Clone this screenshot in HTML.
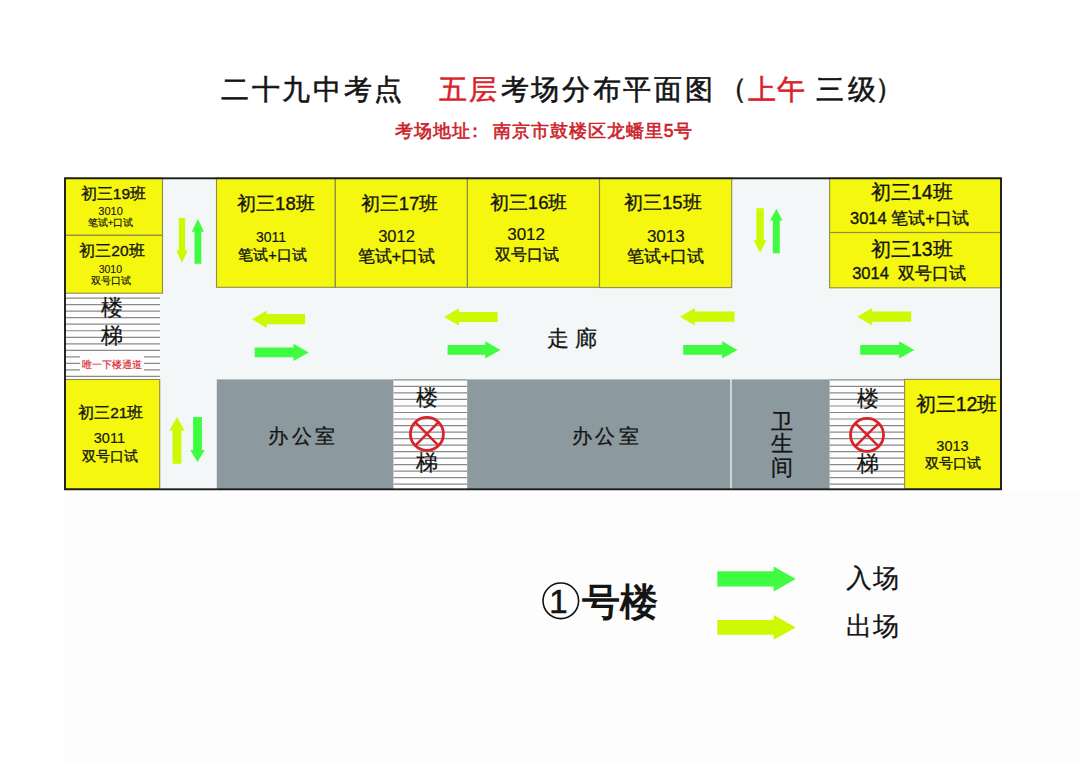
<!DOCTYPE html>
<html><head><meta charset="utf-8"><style>
html,body{margin:0;padding:0;background:#fff;}
body{width:1080px;height:764px;position:relative;overflow:hidden;font-family:"Liberation Sans",sans-serif;}
svg{position:absolute;left:0;top:0;}
.t{position:absolute;white-space:nowrap;line-height:1;color:#141414;}
</style></head><body>
<svg width="1080" height="764" viewBox="0 0 1080 764">
<rect x="64" y="490" width="1016" height="274" fill="#fdfdfd" />
<rect x="65" y="178" width="936" height="311" fill="#f3f7f8" />
<rect x="65" y="178" width="97.5" height="57.3" fill="#f5f70f" />
<rect x="65" y="235.3" width="97.5" height="57.9" fill="#f5f70f" />
<rect x="65" y="379.5" width="94.7" height="109.5" fill="#f5f70f" />
<rect x="216.5" y="178" width="118.8" height="109.3" fill="#f5f70f" />
<rect x="335.3" y="178" width="132.1" height="109.3" fill="#f5f70f" />
<rect x="467.4" y="178" width="132.1" height="109.3" fill="#f5f70f" />
<rect x="599.5" y="178" width="132.2" height="109.6" fill="#f5f70f" />
<rect x="829.6" y="178" width="171.4" height="54.5" fill="#f5f70f" />
<rect x="829.6" y="232.5" width="171.4" height="55.3" fill="#f5f70f" />
<rect x="904.6" y="379.4" width="96.4" height="109.6" fill="#f5f70f" />
<rect x="216.8" y="379.4" width="176.8" height="109.6" fill="#8c999e" />
<rect x="467.1" y="379.4" width="263.2" height="109.6" fill="#8c999e" />
<rect x="731.6" y="379.4" width="98.2" height="109.6" fill="#8c999e" />
<rect x="65" y="293.2" width="95" height="86.3" fill="#fdfdfd" />
<line x1="65" y1="298.1" x2="160" y2="298.1" stroke="#8a8a8a" stroke-width="1.2"/>
<line x1="65" y1="304.63" x2="160" y2="304.63" stroke="#8a8a8a" stroke-width="1.2"/>
<line x1="65" y1="311.16" x2="160" y2="311.16" stroke="#8a8a8a" stroke-width="1.2"/>
<line x1="65" y1="317.69" x2="160" y2="317.69" stroke="#8a8a8a" stroke-width="1.2"/>
<line x1="65" y1="324.22" x2="160" y2="324.22" stroke="#8a8a8a" stroke-width="1.2"/>
<line x1="65" y1="330.75" x2="160" y2="330.75" stroke="#8a8a8a" stroke-width="1.2"/>
<line x1="65" y1="337.28000000000003" x2="160" y2="337.28000000000003" stroke="#8a8a8a" stroke-width="1.2"/>
<line x1="65" y1="343.81" x2="160" y2="343.81" stroke="#8a8a8a" stroke-width="1.2"/>
<line x1="65" y1="350.34000000000003" x2="160" y2="350.34000000000003" stroke="#8a8a8a" stroke-width="1.2"/>
<line x1="65" y1="356.87" x2="160" y2="356.87" stroke="#8a8a8a" stroke-width="1.2"/>
<line x1="65" y1="363.40000000000003" x2="160" y2="363.40000000000003" stroke="#8a8a8a" stroke-width="1.2"/>
<line x1="65" y1="369.93" x2="160" y2="369.93" stroke="#8a8a8a" stroke-width="1.2"/>
<line x1="65" y1="376.46000000000004" x2="160" y2="376.46000000000004" stroke="#8a8a8a" stroke-width="1.2"/>
<rect x="80" y="353.5" width="64" height="18.5" fill="#fdfdfd" />
<rect x="393.6" y="379.4" width="73.5" height="109.6" fill="#fdfdfd" />
<line x1="393.6" y1="379.9" x2="467.1" y2="379.9" stroke="#8a8a8a" stroke-width="1.2"/>
<line x1="393.6" y1="386.41999999999996" x2="467.1" y2="386.41999999999996" stroke="#8a8a8a" stroke-width="1.2"/>
<line x1="393.6" y1="392.94" x2="467.1" y2="392.94" stroke="#8a8a8a" stroke-width="1.2"/>
<line x1="393.6" y1="399.46" x2="467.1" y2="399.46" stroke="#8a8a8a" stroke-width="1.2"/>
<line x1="393.6" y1="405.97999999999996" x2="467.1" y2="405.97999999999996" stroke="#8a8a8a" stroke-width="1.2"/>
<line x1="393.6" y1="412.5" x2="467.1" y2="412.5" stroke="#8a8a8a" stroke-width="1.2"/>
<line x1="393.6" y1="419.02" x2="467.1" y2="419.02" stroke="#8a8a8a" stroke-width="1.2"/>
<line x1="393.6" y1="425.53999999999996" x2="467.1" y2="425.53999999999996" stroke="#8a8a8a" stroke-width="1.2"/>
<line x1="393.6" y1="432.05999999999995" x2="467.1" y2="432.05999999999995" stroke="#8a8a8a" stroke-width="1.2"/>
<line x1="393.6" y1="438.58" x2="467.1" y2="438.58" stroke="#8a8a8a" stroke-width="1.2"/>
<line x1="393.6" y1="445.09999999999997" x2="467.1" y2="445.09999999999997" stroke="#8a8a8a" stroke-width="1.2"/>
<line x1="393.6" y1="451.62" x2="467.1" y2="451.62" stroke="#8a8a8a" stroke-width="1.2"/>
<line x1="393.6" y1="458.14" x2="467.1" y2="458.14" stroke="#8a8a8a" stroke-width="1.2"/>
<line x1="393.6" y1="464.65999999999997" x2="467.1" y2="464.65999999999997" stroke="#8a8a8a" stroke-width="1.2"/>
<line x1="393.6" y1="471.17999999999995" x2="467.1" y2="471.17999999999995" stroke="#8a8a8a" stroke-width="1.2"/>
<line x1="393.6" y1="477.7" x2="467.1" y2="477.7" stroke="#8a8a8a" stroke-width="1.2"/>
<line x1="393.6" y1="484.21999999999997" x2="467.1" y2="484.21999999999997" stroke="#8a8a8a" stroke-width="1.2"/>
<rect x="829.8" y="379.4" width="74.8" height="109.6" fill="#fdfdfd" />
<line x1="829.8" y1="379.9" x2="904.6" y2="379.9" stroke="#8a8a8a" stroke-width="1.2"/>
<line x1="829.8" y1="386.41999999999996" x2="904.6" y2="386.41999999999996" stroke="#8a8a8a" stroke-width="1.2"/>
<line x1="829.8" y1="392.94" x2="904.6" y2="392.94" stroke="#8a8a8a" stroke-width="1.2"/>
<line x1="829.8" y1="399.46" x2="904.6" y2="399.46" stroke="#8a8a8a" stroke-width="1.2"/>
<line x1="829.8" y1="405.97999999999996" x2="904.6" y2="405.97999999999996" stroke="#8a8a8a" stroke-width="1.2"/>
<line x1="829.8" y1="412.5" x2="904.6" y2="412.5" stroke="#8a8a8a" stroke-width="1.2"/>
<line x1="829.8" y1="419.02" x2="904.6" y2="419.02" stroke="#8a8a8a" stroke-width="1.2"/>
<line x1="829.8" y1="425.53999999999996" x2="904.6" y2="425.53999999999996" stroke="#8a8a8a" stroke-width="1.2"/>
<line x1="829.8" y1="432.05999999999995" x2="904.6" y2="432.05999999999995" stroke="#8a8a8a" stroke-width="1.2"/>
<line x1="829.8" y1="438.58" x2="904.6" y2="438.58" stroke="#8a8a8a" stroke-width="1.2"/>
<line x1="829.8" y1="445.09999999999997" x2="904.6" y2="445.09999999999997" stroke="#8a8a8a" stroke-width="1.2"/>
<line x1="829.8" y1="451.62" x2="904.6" y2="451.62" stroke="#8a8a8a" stroke-width="1.2"/>
<line x1="829.8" y1="458.14" x2="904.6" y2="458.14" stroke="#8a8a8a" stroke-width="1.2"/>
<line x1="829.8" y1="464.65999999999997" x2="904.6" y2="464.65999999999997" stroke="#8a8a8a" stroke-width="1.2"/>
<line x1="829.8" y1="471.17999999999995" x2="904.6" y2="471.17999999999995" stroke="#8a8a8a" stroke-width="1.2"/>
<line x1="829.8" y1="477.7" x2="904.6" y2="477.7" stroke="#8a8a8a" stroke-width="1.2"/>
<line x1="829.8" y1="484.21999999999997" x2="904.6" y2="484.21999999999997" stroke="#8a8a8a" stroke-width="1.2"/>
<rect x="65" y="178" width="97.5" height="57.3" fill="none" stroke="#8f8d4a" stroke-width="1.1"/>
<rect x="65" y="235.3" width="97.5" height="57.9" fill="none" stroke="#8f8d4a" stroke-width="1.1"/>
<rect x="65" y="379.5" width="94.7" height="109.5" fill="none" stroke="#8f8d4a" stroke-width="1.1"/>
<rect x="216.5" y="178" width="118.8" height="109.3" fill="none" stroke="#8f8d4a" stroke-width="1.1"/>
<rect x="335.3" y="178" width="132.1" height="109.3" fill="none" stroke="#8f8d4a" stroke-width="1.1"/>
<rect x="467.4" y="178" width="132.1" height="109.3" fill="none" stroke="#8f8d4a" stroke-width="1.1"/>
<rect x="599.5" y="178" width="132.2" height="109.6" fill="none" stroke="#8f8d4a" stroke-width="1.1"/>
<rect x="829.6" y="178" width="171.4" height="54.5" fill="none" stroke="#8f8d4a" stroke-width="1.1"/>
<rect x="829.6" y="232.5" width="171.4" height="55.3" fill="none" stroke="#8f8d4a" stroke-width="1.1"/>
<rect x="904.6" y="379.4" width="96.4" height="109.6" fill="none" stroke="#8f8d4a" stroke-width="1.1"/>
<rect x="65" y="178.3" width="936" height="311" fill="none" stroke="#1c1c1c" stroke-width="1.9"/>
<circle cx="426.9" cy="433.9" r="16.5" fill="none" stroke="#d8232a" stroke-width="2.8"/>
<line x1="415.23285" y1="422.23285" x2="438.56714999999997" y2="445.56714999999997" stroke="#d8232a" stroke-width="2.5"/>
<line x1="415.23285" y1="445.56714999999997" x2="438.56714999999997" y2="422.23285" stroke="#d8232a" stroke-width="2.5"/>
<circle cx="867.0" cy="434.8" r="16.5" fill="none" stroke="#d8232a" stroke-width="2.8"/>
<line x1="855.33285" y1="423.13285" x2="878.66715" y2="446.46715" stroke="#d8232a" stroke-width="2.5"/>
<line x1="855.33285" y1="446.46715" x2="878.66715" y2="423.13285" stroke="#d8232a" stroke-width="2.5"/>
<polygon points="251.9,319.2 266.7,310.5 266.7,314.1 305.1,314.1 305.1,324.3 266.7,324.3 266.7,327.9" fill="#cdf905"/>
<polygon points="444.1,317.0 458.9,308.3 458.9,311.9 497.7,311.9 497.7,322.1 458.9,322.1 458.9,325.7" fill="#cdf905"/>
<polygon points="680.1,316.7 694.9,308.0 694.9,311.6 734.5,311.6 734.5,321.8 694.9,321.8 694.9,325.4" fill="#cdf905"/>
<polygon points="857.3,316.7 872.1,308.0 872.1,311.6 911.2,311.6 911.2,321.8 872.1,321.8 872.1,325.4" fill="#cdf905"/>
<polygon points="308.7,352.4 293.5,343.8 293.5,347.5 254.7,347.5 254.7,357.3 293.5,357.3 293.5,361.0" fill="#40fc40"/>
<polygon points="500.4,349.9 485.2,341.3 485.2,345.0 447.6,345.0 447.6,354.8 485.2,354.8 485.2,358.5" fill="#40fc40"/>
<polygon points="737.4,349.9 722.2,341.3 722.2,345.0 683.2,345.0 683.2,354.8 722.2,354.8 722.2,358.5" fill="#40fc40"/>
<polygon points="914.3,349.9 899.1,341.3 899.1,345.0 860.2,345.0 860.2,354.8 899.1,354.8 899.1,358.5" fill="#40fc40"/>
<polygon points="182.0,262.8 187.8,250.5 185.2,250.5 185.2,218.1 178.8,218.1 178.8,250.5 176.2,250.5" fill="#cdf905"/>
<polygon points="197.9,219.1 204.0,231.8 201.3,231.8 201.3,263.8 194.5,263.8 194.5,231.8 191.8,231.8" fill="#40fc40"/>
<polygon points="760.1,252.7 766.5,240.3 763.8,240.3 763.8,208.3 756.4,208.3 756.4,240.3 753.7,240.3" fill="#cdf905"/>
<polygon points="776.35,208.7 782.55,220.6 779.8,220.6 779.8,253.2 772.9,253.2 772.9,220.6 770.15,220.6" fill="#40fc40"/>
<polygon points="177.0,416.9 184.7,430.5 181.45,430.5 181.45,463.7 172.55,463.7 172.55,430.5 169.3,430.5" fill="#cdf905"/>
<polygon points="197.5,462.0 204.75,450.1 201.95,450.1 201.95,416.9 193.05,416.9 193.05,450.1 190.25,450.1" fill="#40fc40"/>
<polygon points="795.7,578.9 773.7,566.4 773.7,571.3 717.3,571.3 717.3,586.5 773.7,586.5 773.7,591.4" fill="#40fc40"/>
<polygon points="795.7,627.4 773.7,615.1 773.7,619.95 717.3,619.95 717.3,634.85 773.7,634.85 773.7,639.7" fill="#cdf905"/>
<circle cx="560.8" cy="600.8" r="17.8" fill="none" stroke="#111" stroke-width="1.6"/>
</svg>
<div class="t" style="left:221.15px;top:75.75px;font-size:28px;letter-spacing:2.62px;-webkit-text-stroke-width:0.55px;">二十九中考点</div>
<div class="t" style="left:439.2px;top:76.0px;font-size:28px;letter-spacing:1.6px;color:#d8232a;-webkit-text-stroke-width:0.55px;">五层</div>
<div class="t" style="left:500.65px;top:75.95px;font-size:28px;letter-spacing:2.68px;-webkit-text-stroke-width:0.55px;">考场分布平面图</div>
<div class="t" style="left:719.25px;top:74.5px;font-size:28px;-webkit-text-stroke-width:0.55px;">（</div>
<div class="t" style="left:747.7px;top:75.95px;font-size:28px;letter-spacing:1.8px;color:#d8232a;-webkit-text-stroke-width:0.55px;">上午</div>
<div class="t" style="left:815.85px;top:76.45px;font-size:28px;letter-spacing:4.3px;-webkit-text-stroke-width:0.55px;">三级</div>
<div class="t" style="left:874.95px;top:74.5px;font-size:28px;-webkit-text-stroke-width:0.55px;">）</div>
<div class="t" style="left:395.3px;top:122.55px;font-size:17.5px;letter-spacing:0.93px;color:#cc1f2a;-webkit-text-stroke-width:0.6px;">考场地址</div>
<div class="t" style="left:466.25px;top:122.75px;font-size:17.5px;color:#cc1f2a;-webkit-text-stroke-width:0.6px;">：</div>
<div class="t" style="left:493.15px;top:122.55px;font-size:17.5px;letter-spacing:0.95px;color:#cc1f2a;-webkit-text-stroke-width:0.6px;">南京市鼓楼区龙蟠里5号</div>
<div class="t" style="left:80.8px;top:185.5px;font-size:15.5px;-webkit-text-stroke-width:0.35px;">初三19班</div>
<div class="t" style="left:98.35px;top:206.25px;font-size:11.0px;-webkit-text-stroke-width:0.1px;">3010</div>
<div class="t" style="left:87.85px;top:218.4px;font-size:9.5px;-webkit-text-stroke-width:0.2px;">笔试+口试</div>
<div class="t" style="left:79.3px;top:243.25px;font-size:15.5px;-webkit-text-stroke-width:0.35px;">初三20班</div>
<div class="t" style="left:98.65px;top:263.75px;font-size:10.5px;-webkit-text-stroke-width:0.1px;">3010</div>
<div class="t" style="left:90.85px;top:276.3px;font-size:9.5px;-webkit-text-stroke-width:0.2px;">双号口试</div>
<div class="t" style="left:101.1px;top:296.85px;font-size:22px;-webkit-text-stroke-width:0.2px;">楼</div>
<div class="t" style="left:101.1px;top:325.25px;font-size:22px;-webkit-text-stroke-width:0.2px;">梯</div>
<div class="t" style="left:81.75px;top:359.6px;font-size:9.5px;color:#d8232a;-webkit-text-stroke-width:0.15px;">唯一下楼通道</div>
<div class="t" style="left:78.15px;top:404.7px;font-size:15.5px;-webkit-text-stroke-width:0.35px;">初三21班</div>
<div class="t" style="left:93.8px;top:430.9px;font-size:14.5px;-webkit-text-stroke-width:0.15px;">3011</div>
<div class="t" style="left:82.2px;top:449.5px;font-size:13.5px;-webkit-text-stroke-width:0.35px;">双号口试</div>
<div class="t" style="left:237.1px;top:194.55px;font-size:18.5px;-webkit-text-stroke-width:0.35px;">初三18班</div>
<div class="t" style="left:256.05px;top:229.5px;font-size:14.0px;-webkit-text-stroke-width:0.15px;">3011</div>
<div class="t" style="left:238.25px;top:248.2px;font-size:14.5px;-webkit-text-stroke-width:0.35px;">笔试+口试</div>
<div class="t" style="left:360.75px;top:194.75px;font-size:18.5px;-webkit-text-stroke-width:0.35px;">初三17班</div>
<div class="t" style="left:378.15px;top:227.65px;font-size:16.5px;-webkit-text-stroke-width:0.15px;">3012</div>
<div class="t" style="left:357.6px;top:247.55px;font-size:16.5px;-webkit-text-stroke-width:0.35px;">笔试+口试</div>
<div class="t" style="left:489.85px;top:194.15px;font-size:18.5px;-webkit-text-stroke-width:0.35px;">初三16班</div>
<div class="t" style="left:507.2px;top:226.3px;font-size:17.0px;-webkit-text-stroke-width:0.15px;">3012</div>
<div class="t" style="left:494.55px;top:247.15px;font-size:15.5px;-webkit-text-stroke-width:0.35px;">双号口试</div>
<div class="t" style="left:624.0px;top:194.35px;font-size:18.5px;-webkit-text-stroke-width:0.35px;">初三15班</div>
<div class="t" style="left:646.9px;top:227.9px;font-size:17.0px;-webkit-text-stroke-width:0.15px;">3013</div>
<div class="t" style="left:626.65px;top:247.55px;font-size:16.5px;-webkit-text-stroke-width:0.35px;">笔试+口试</div>
<div class="t" style="left:870.9px;top:183.45px;font-size:19.5px;-webkit-text-stroke-width:0.35px;">初三14班</div>
<div class="t" style="left:850.0px;top:209.9px;font-size:16.5px;-webkit-text-stroke-width:0.35px;">3014 笔试+口试</div>
<div class="t" style="left:870.9px;top:239.75px;font-size:19.5px;-webkit-text-stroke-width:0.35px;">初三13班</div>
<div class="t" style="left:852.2px;top:264.9px;font-size:16.5px;-webkit-text-stroke-width:0.35px;">3014&nbsp; 双号口试</div>
<div class="t" style="left:547.1px;top:327.65px;font-size:22px;letter-spacing:6.4px;-webkit-text-stroke-width:0.3px;">走廊</div>
<div class="t" style="left:268.05px;top:425.8px;font-size:20px;letter-spacing:3.65px;-webkit-text-stroke-width:0.3px;">办公室</div>
<div class="t" style="left:571.65px;top:425.8px;font-size:20px;letter-spacing:3.65px;-webkit-text-stroke-width:0.3px;">办公室</div>
<div class="t" style="left:416.3px;top:386.7px;font-size:22px;-webkit-text-stroke-width:0.2px;">楼</div>
<div class="t" style="left:416.3px;top:452.15px;font-size:22px;-webkit-text-stroke-width:0.2px;">梯</div>
<div class="t" style="left:770.65px;top:410.85px;font-size:22px;-webkit-text-stroke-width:0.3px;">卫</div>
<div class="t" style="left:770.65px;top:432.85px;font-size:22px;-webkit-text-stroke-width:0.3px;">生</div>
<div class="t" style="left:770.65px;top:456.55px;font-size:22px;-webkit-text-stroke-width:0.3px;">间</div>
<div class="t" style="left:856.55px;top:388.0px;font-size:22px;-webkit-text-stroke-width:0.2px;">楼</div>
<div class="t" style="left:856.55px;top:452.7px;font-size:22px;-webkit-text-stroke-width:0.2px;">梯</div>
<div class="t" style="left:915.7px;top:395.0px;font-size:19.5px;-webkit-text-stroke-width:0.35px;">初三12班</div>
<div class="t" style="left:936.35px;top:438.55px;font-size:14.5px;-webkit-text-stroke-width:0.15px;">3013</div>
<div class="t" style="left:925.25px;top:456.75px;font-size:13.5px;-webkit-text-stroke-width:0.35px;">双号口试</div>
<div class="t" style="left:549.35px;top:584.6px;font-size:33.0px;-webkit-text-stroke-width:0.6px;">1</div>
<div class="t" style="left:581.65px;top:583.75px;font-size:37.5px;font-weight:700;">号楼</div>
<div class="t" style="left:845.6px;top:565.0px;font-size:26px;letter-spacing:1px;-webkit-text-stroke-width:0.25px;">入场</div>
<div class="t" style="left:845.85px;top:613.4px;font-size:26px;letter-spacing:1px;-webkit-text-stroke-width:0.25px;">出场</div>
</body></html>
